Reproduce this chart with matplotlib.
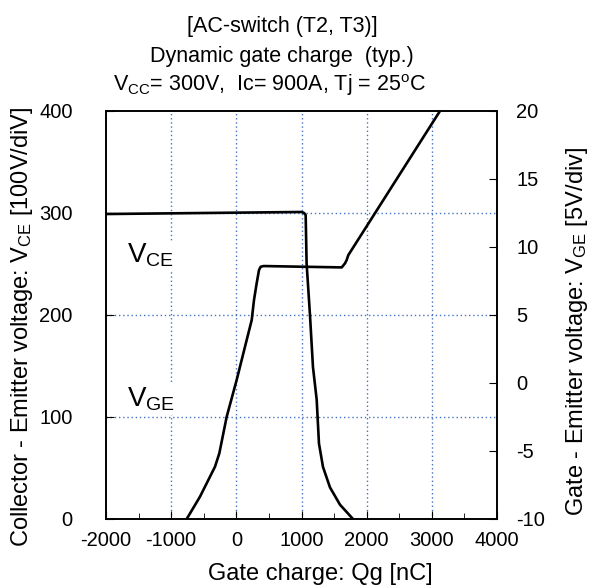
import matplotlib
matplotlib.use("Agg")
import matplotlib.pyplot as plt
from matplotlib.ticker import MultipleLocator

plt.rcParams['font.family'] = ['Liberation Sans', 'DejaVu Sans']
plt.rcParams['mathtext.fontset'] = 'custom'
plt.rcParams['mathtext.rm'] = 'Liberation Sans'
plt.rcParams['mathtext.it'] = 'Liberation Sans:italic'
plt.rcParams['axes.unicode_minus'] = False

# V_CE curve (left axis, V) vs gate charge (nC)
qg_vce = [-2000, 1000, 1040, 1064, 1078, 1130, 1176, 1233, 1268, 1330, 1437, 1591, 1790]
vce = [299, 301, 300, 298, 251, 200, 149, 117, 74, 51, 31, 14, 0]

# V_GE curve (right axis, V) vs gate charge (nC)
qg_vge = [-762, -558, -327, -261, -148, 5, 133, 236, 271, 312, 348, 374, 420,
          1000, 1617, 1668, 1693, 1718, 3125]
vge = [-10, -8.36, -6.15, -5.17, -2.48, 0.22, 2.67, 4.63, 6.1, 7.33, 8.31, 8.55, 8.6,
       8.55, 8.5, 8.8, 9.04, 9.4, 20]

x_ticks = [-2000, -1000, 0, 1000, 2000, 3000, 4000]
vce_ticks = [0, 100, 200, 300, 400]
vge_ticks = [-10, -5, 0, 5, 10, 15, 20]

fig = plt.figure(figsize=(5.92, 5.87), dpi=100)
ax = fig.add_axes([106/592, 68/587, 391/592, 408/587])
ax2 = ax.twinx()

grid_col = '#4472C4'
for x in [-1000, 0, 1000, 2000, 3000]:
    ax.axvline(x, color=grid_col, lw=1.0, ls=(0, (1, 2)), zorder=1)
for y in [100, 200, 300]:
    ax.axhline(y, color=grid_col, lw=1.0, ls=(0, (1, 2)), zorder=1)

ax.plot(qg_vce, vce, color='black', lw=1.9, zorder=3)
ax2.plot(qg_vge, vge, color='black', lw=1.9, zorder=3)

ax.set_xlim(-2000, 4000)
ax.set_ylim(0, 400)
ax2.set_ylim(-10, 20)
ax.set_xticks(x_ticks)
ax.set_xticklabels([str(v) for v in x_ticks])
ax.xaxis.set_minor_locator(MultipleLocator(500))
ax.set_yticks(vce_ticks)
ax2.set_yticks(vge_ticks)

ax.tick_params(axis='x', which='both', direction='in', labelsize=14.5, pad=9)
ax.tick_params(axis='x', which='major', length=6)
ax.tick_params(axis='x', which='minor', length=4)
ax.tick_params(axis='y', direction='in', length=6, labelsize=14.5, pad=24)
ax2.tick_params(axis='y', direction='in', length=6, labelsize=14.5, pad=14)

for a in (ax, ax2):
    for s in a.spines.values():
        s.set_linewidth(1.2)

box = dict(facecolor='white', edgecolor='none', pad=1)
ax.text(-1680, 251, r'V$_\mathregular{CE}$', fontsize=20, ha='left', va='baseline', bbox=box, zorder=4)
ax.text(-1680, 110, r'V$_\mathregular{GE}$', fontsize=20, ha='left', va='baseline', bbox=box, zorder=4)

fig.text(282/592, 1 - 32/587, '[AC-switch (T2, T3)]', fontsize=15.5, ha='center', va='baseline')
fig.text(282/592, 1 - 62/587, 'Dynamic gate charge  (typ.)', fontsize=15.5, ha='center', va='baseline')
fig.text(270/592, 1 - 91/587, r'V$_\mathregular{CC}$= 300V,  Ic= 900A, Tj = 25$^\mathregular{o}$C',
         fontsize=15.5, ha='center', va='baseline')

fig.text(320/592, 7/587, 'Gate charge: Qg [nC]', fontsize=17, ha='center', va='baseline')
fig.text(22/592, 1 - 327/587, r'Collector - Emitter voltage: V$_\mathregular{CE}$ [100V/diV]',
         fontsize=17, rotation=90, ha='center', va='center')
fig.text(577/592, 1 - 331/587, r'Gate - Emitter voltage: V$_\mathregular{GE}$ [5V/div]',
         fontsize=17, rotation=90, ha='center', va='center')

fig.savefig('out.png', dpi=100)
